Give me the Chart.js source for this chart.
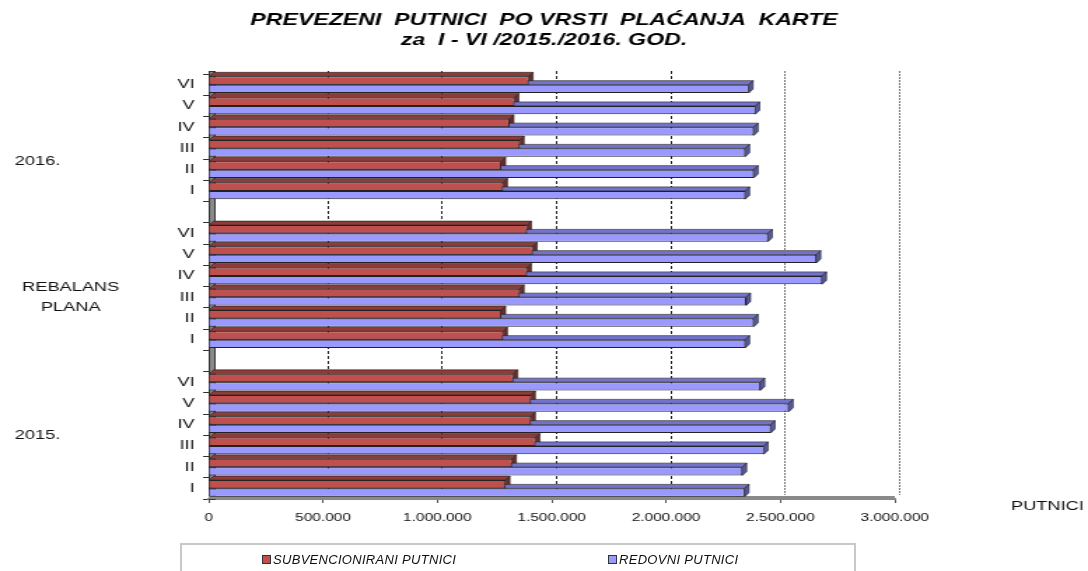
<!DOCTYPE html>
<html>
<head>
<meta charset="utf-8">
<script src="https://cdn.jsdelivr.net/npm/chart.js@4.4.1/dist/chart.umd.min.js"></script>
<style>
  body{margin:0;background:#fff;font-family:"Liberation Sans",Arial,sans-serif}
  #wrap{position:relative;width:1088px;height:571px;overflow:hidden}
  #c{position:absolute;left:0;top:0}
  #legend{position:absolute;left:180px;top:543px;width:676px;height:40px;border:2px solid #c8c8c8;box-sizing:border-box}
  .li{position:absolute;top:7px;font-style:italic;font-size:13px;color:#111;white-space:nowrap;letter-spacing:0.3px}
  .sw{display:inline-block;width:7px;height:7px;border:1px solid #333;margin-right:2px;vertical-align:0px}
</style>
</head>
<body>
<div id="wrap">
  <canvas id="c" width="777" height="571" style="width:1088px;height:571px"></canvas>
  <div id="legend">
    <span class="li" style="left:80px"><span class="sw" style="background:#C0504D"></span>SUBVENCIONIRANI PUTNICI</span>
    <span class="li" style="left:426px"><span class="sw" style="background:#9999FF"></span>REDOVNI PUTNICI</span>
  </div>
</div>
<script>
// months I..VI, values
const months = ['I','II','III','IV','V','VI']
const groups = ['2015.','REBALANS PLANA','2016.']
const title = ['PREVEZENI  PUTNICI  PO VRSTI  PLAĆANJA  KARTE','za  I - VI /2015./2016. GOD.']

const sub2015  = [1299000,1327000,1430000,1410000,1410000,1333000]
const red2015  = [2344000,2334000,2428000,2458000,2537000,2413000]
const subPlan  = [1288000,1280000,1361000,1393000,1418000,1393000]
const redPlan  = [2347000,2384000,2351000,2683000,2658000,2446000]
const sub2016  = [1288000,1280000,1361000,1316000,1338000,1400000]
const red2016  = [2347000,2384000,2347000,2384000,2391000,2362000]

const xTicksMax = 3000000
const xStep = 500000

// top to bottom: 2016 VI..I, gap, plan VI..I, gap, 2015 VI..I
const rev = a => a.slice().reverse()
const labels = [...rev(months),'',...rev(months),'',...rev(months)]
const subData = [...rev(sub2016),null,...rev(subPlan),null,...rev(sub2015)]
const redData = [...rev(red2016),null,...rev(redPlan),null,...rev(red2015)]

const fmt = v => v.toString().replace(/\B(?=(\d{3})+(?!\d))/g,'.')
const FONT = '"Liberation Sans", Arial, sans-serif'

// the picture is stretched sideways, so the canvas is drawn narrow and widened by css
const faces = [
  {top:'#8E3B39',side:'#6E2A28'},
  {top:'#7373CC',side:'#5858A6'}
]
const DX = 3, DY = 4

const plot3d = {
  id:'plot3d',
  beforeDatasetsDraw(chart){
    const {ctx,chartArea:a} = chart
    const xs = chart.scales.x
    ctx.save()
    // back grid lines
    for(let v=xStep; v<=xTicksMax; v+=xStep){
      const px = Math.round(xs.getPixelForValue(v)+DX)+0.5
      ctx.strokeStyle = v>2000000 ? '#777' : '#222'
      ctx.lineWidth = 1
      ctx.setLineDash(v>2000000 ? [2,1] : [3,2])
      ctx.beginPath();ctx.moveTo(px,a.top-3);ctx.lineTo(px,a.bottom-DY);ctx.stroke()
    }
    ctx.setLineDash([])
    // left wall + floor
    ctx.fillStyle='#8a8a8a'
    ctx.strokeStyle='#333'
    ctx.fillRect(a.left,a.top-3,DX+1,a.bottom-a.top+3)
    ctx.strokeRect(a.left+0.5,a.top-2.5,DX+1,a.bottom-a.top+3)
    ctx.fillRect(a.left,a.bottom-3,a.right-a.left,3)
    chart.data.datasets.forEach((ds,i)=>{
      const meta = chart.getDatasetMeta(i)
      meta.data.forEach((el,j)=>{
        if(ds.data[j]==null) return
        const t = el.y-el.height/2, b = el.y+el.height/2
        const x0 = el.base, x1 = el.x
        ctx.lineWidth=0.6
        ctx.strokeStyle='#222'
        ctx.fillStyle = faces[i].top
        ctx.beginPath()
        ctx.moveTo(x0,t);ctx.lineTo(x0+DX,t-DY);ctx.lineTo(x1+DX,t-DY);ctx.lineTo(x1,t);ctx.closePath()
        ctx.fill();ctx.stroke()
        ctx.fillStyle = faces[i].side
        ctx.beginPath()
        ctx.moveTo(x1,t);ctx.lineTo(x1+DX,t-DY);ctx.lineTo(x1+DX,b-DY);ctx.lineTo(x1,b);ctx.closePath()
        ctx.fill();ctx.stroke()
      })
    })
    ctx.restore()
  },
  afterDraw(chart){
    const {ctx} = chart
    const y = chart.scales.y
    ctx.save()
    ctx.fillStyle='#000'
    ctx.textBaseline='middle'
    ctx.textAlign='center'
    ctx.font='italic bold 16.5px '+FONT
    ctx.fillText(title[0],chart.width/2,20)
    ctx.fillText(title[1],chart.width/2,40)
    ctx.fillStyle='#111'
    ctx.font='13px '+FONT
    ctx.textAlign='left'
    ctx.fillText(groups[2],10.5,y.getPixelForValue(3.6))
    ctx.fillText(groups[0],10.5,y.getPixelForValue(16.5))
    ctx.textAlign='center'
    const pl = groups[1].split(' ')
    ctx.fillText(pl[0],50.5,y.getPixelForValue(9.55))
    ctx.fillText(pl[1],50.5,y.getPixelForValue(10.5))
    ctx.fillText('PUTNICI',748,506)
    ctx.restore()
  }
}

const cv = document.getElementById('c')
new Chart(cv.getContext('2d'),{
  type:'bar',
  data:{
    labels:labels,
    datasets:[
      {label:'SUBVENCIONIRANI PUTNICI',data:subData,backgroundColor:'#C0504D',borderColor:'#222',borderWidth:1,barPercentage:1,categoryPercentage:0.78},
      {label:'REDOVNI PUTNICI',data:redData,backgroundColor:'#9999FF',borderColor:'#222',borderWidth:1,barPercentage:1,categoryPercentage:0.78}
    ]
  },
  options:{
    indexAxis:'y',
    responsive:false,
    animation:false,
    layout:{padding:{top:74,right:138}},
    plugins:{
      legend:{display:false},
      tooltip:{enabled:false},
      title:{display:false}
    },
    scales:{
      x:{
        min:0,max:xTicksMax,
        afterFit(s){s.height=72},
        ticks:{stepSize:xStep,callback:v=>fmt(v),color:'#111',padding:8,font:{family:FONT,size:11}},
        grid:{drawOnChartArea:false,color:'#555',tickLength:4,lineWidth:1},
        border:{display:true,color:'#888',width:2}
      },
      y:{
        afterFit(s){s.width=149},
        ticks:{color:'#111',padding:6,font:{family:FONT,size:13}},
        grid:{drawOnChartArea:false,drawTicks:true,tickLength:4,color:'#333'},
        border:{display:true,color:'#888',width:1}
      }
    }
  },
  plugins:[plot3d]
})
cv.style.width='1088px'
cv.style.height='571px'
</script>
</body>
</html>
